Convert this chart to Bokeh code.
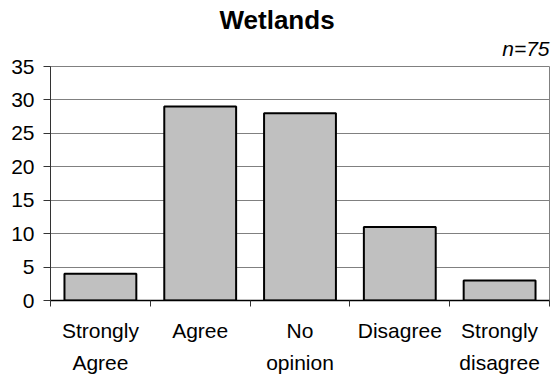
from bokeh.plotting import figure
from bokeh.models import Range1d, FixedTicker, SingleIntervalTicker, Title, ColumnDataSource
from bokeh.embed import file_html
from bokeh.resources import INLINE

categories = ["Strongly\nAgree", "Agree", "No\nopinion", "Disagree", "Strongly\ndisagree"]
values = [4, 29, 28, 11, 3]
title_text = "Wetlands"
note_text = "n=75"
y_max = 35
y_step = 5

FONT = "Liberation Sans"
n = len(categories)
centers = [i + 0.5 for i in range(n)]

p = figure(width=551, height=377, output_backend="svg", toolbar_location=None,
           x_range=Range1d(0, n), y_range=Range1d(0, y_max),
           min_border_left=50, min_border_right=2, min_border_top=66, min_border_bottom=75)
p.background_fill_color = "white"
p.border_fill_color = "white"
p.outline_line_color = "#808080"
p.outline_line_width = 1

src = ColumnDataSource(dict(x=centers, top=values))
p.vbar(x="x", top="top", bottom=0, width=0.72, source=src,
       fill_color="#C0C0C0", line_color="black", line_width=2)

# x axis
xa = p.xaxis[0]
xa.ticker = FixedTicker(ticks=centers, minor_ticks=list(range(n + 1)))
xa.major_label_overrides = {c: lab for c, lab in zip(centers, categories)}
xa.major_tick_out = 0
xa.major_tick_in = 0
xa.minor_tick_out = 6
xa.minor_tick_in = 0
xa.minor_tick_line_color = "#333333"
xa.axis_line_color = "black"
xa.axis_line_width = 1.5
xa.major_label_text_font = FONT
xa.major_label_text_font_size = "21px"
xa.major_label_text_color = "black"
xa.major_label_text_line_height = 1.42
xa.major_label_standoff = 12
p.xgrid.visible = False

# y axis
ya = p.yaxis[0]
ya.ticker = SingleIntervalTicker(interval=y_step)
ya.major_tick_out = 7
ya.major_tick_in = 0
ya.minor_tick_out = 0
ya.minor_tick_in = 0
ya.axis_line_color = "#333333"
ya.major_tick_line_color = "#333333"
ya.major_label_text_font = FONT
ya.major_label_text_font_size = "21px"
ya.major_label_text_color = "black"
ya.major_label_standoff = 9
p.ygrid.grid_line_color = "#808080"
p.ygrid.grid_line_width = 1
p.ygrid.ticker = SingleIntervalTicker(interval=y_step)

# note (closest to frame) and title
p.add_layout(Title(text=note_text, text_font=FONT, text_font_size="21px",
                   text_font_style="italic", align="right", text_color="black",
                   standoff=13), "above")
p.add_layout(Title(text=title_text, text_font=FONT, text_font_size="26px",
                   text_font_style="bold", align="left", offset=169, text_color="black",
                   standoff=-12), "above")

open("out.html", "w").write(file_html(p, INLINE))
